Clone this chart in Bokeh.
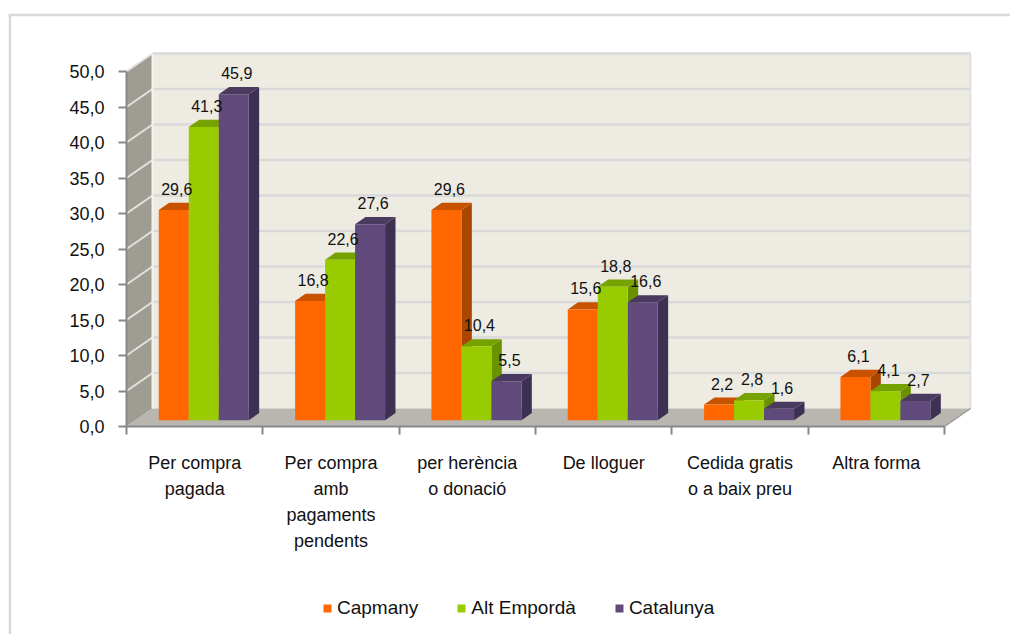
from bokeh.plotting import figure
from bokeh.models import FixedTicker, Legend, LegendItem, Range1d, ColumnDataSource
from bokeh.embed import file_html
from bokeh.resources import INLINE
from bokeh.core.properties import value

# ---------------- data ----------------
categories = ["Per compra\npagada", "Per compra\namb\npagaments\npendents",
              "per herència\no donació", "De lloguer",
              "Cedida gratis\no a baix preu", "Altra forma"]
series_names = ["Capmany", "Alt Empordà", "Catalunya"]
capmany = [29.6, 16.8, 29.6, 15.6, 2.2, 6.1]
alt_emporda = [41.3, 22.6, 10.4, 18.8, 2.8, 4.1]
catalunya = [45.9, 27.6, 5.5, 16.6, 1.6, 2.7]
y_ticks = [0, 5, 10, 15, 20, 25, 30, 35, 40, 45, 50]
y_tick_labels = ["0,0", "5,0", "10,0", "15,0", "20,0", "25,0", "30,0", "35,0", "40,0", "45,0", "50,0"]

series_values = [capmany, alt_emporda, catalunya]

# ---------------- styles ----------------
FONT = "Liberation Sans"
front_col = ["#ff6600", "#99cc00", "#604a7b"]
top_col = ["#c85200", "#76a200", "#4a3a60"]
side_col = ["#aa4600", "#6a9200", "#3e3052"]

WIDTH, HEIGHT = 1010, 634
X0_PX, Y0_PX = 126, 426      # pixel position of the axes origin
n = len(categories)
PX_X = 136.33                # pixels per category
PX_Y = 7.1                   # pixels per value unit
DX = 26 / PX_X               # full depth, x
DY = 18 / PX_Y               # full depth, y
F = 0.35                     # bar front depth fraction
B = 0.75                     # bar back depth fraction
W = 0.22                     # bar width
G0 = 0.5 - 1.5 * W
YMAX = 50


def sx(px):
    return (px - X0_PX) / PX_X


def sy(py):
    return (Y0_PX - py) / PX_Y


p = figure(width=WIDTH, height=HEIGHT,
           x_range=Range1d(sx(0), sx(WIDTH)),
           y_range=Range1d(sy(HEIGHT), sy(0)),
           output_backend="svg", toolbar_location=None,
           min_border=0, min_border_left=0, min_border_right=0,
           min_border_top=0, min_border_bottom=0)
p.grid.visible = False
p.outline_line_color = None
p.background_fill_color = "white"
p.border_fill_color = "white"

# outer chart border (left and top edges only)
p.segment(x0=[sx(9.5), sx(8)], y0=[sy(13.5), sy(14.5)], x1=[sx(9.5), sx(1020)], y1=[sy(700), sy(14.5)],
          line_color="#d9d9d9", line_width=2.5)

# walls and floor
p.patch([0, DX, DX, 0], [0, DY, YMAX + DY, YMAX], fill_color="#9f9c94", line_color=None)
p.patch([DX, n + DX, n + DX, DX], [DY, DY, YMAX + DY, YMAX + DY], fill_color="#edebe2", line_color=None)
p.patch([0, n, n + DX, DX], [0, 0, DY, DY], fill_color="#b8b6ae", line_color=None)

grid_v = y_ticks[1:]
p.segment(x0=[DX] * len(grid_v), y0=[v + DY for v in grid_v],
          x1=[n + DX] * len(grid_v), y1=[v + DY for v in grid_v],
          line_color="#d9d9d9", line_width=2.5)
p.segment(x0=[0] * len(grid_v), y0=grid_v, x1=[DX] * len(grid_v), y1=[v + DY for v in grid_v],
          line_color="#e4e2dc", line_width=2)
p.segment(x0=[DX], y0=[DY], x1=[DX], y1=[YMAX + DY], line_color="#f4f3ee", line_width=2)
p.segment(x0=[n + DX], y0=[DY], x1=[n + DX], y1=[YMAX + DY], line_color="#dcdcdc", line_width=1.5)
p.segment(x0=[n], y0=[0], x1=[n + DX], y1=[DY], line_color="#9a9a9a", line_width=1.5)

# bars
legend_items = []
for j, vals in enumerate(series_values):
    lefts = [i + G0 + j * W for i in range(n)]
    rights = [l + W for l in lefts]
    side_xs, side_ys, top_xs, top_ys = [], [], [], []
    for l, r, v in zip(lefts, rights, vals):
        side_xs.append([r + F * DX, r + B * DX, r + B * DX, r + F * DX])
        side_ys.append([F * DY, B * DY, v + B * DY, v + F * DY])
        top_xs.append([l + F * DX, r + F * DX, r + B * DX, l + B * DX])
        top_ys.append([v + F * DY, v + F * DY, v + B * DY, v + B * DY])
    p.patches(side_xs, side_ys, fill_color=side_col[j], line_color=None)
    p.patches(top_xs, top_ys, fill_color=top_col[j], line_color=None)
    src = ColumnDataSource(dict(left=[l + F * DX for l in lefts], right=[r + F * DX for r in rights],
                                bottom=[F * DY] * n, top=[v + F * DY for v in vals]))
    rq = p.quad(left="left", right="right", bottom="bottom", top="top", source=src,
                fill_color=front_col[j], line_color=None)
    legend_items.append(LegendItem(label=series_names[j], renderers=[rq]))

# data labels
for j, vals in enumerate(series_values):
    lx = [i + G0 + j * W + W / 2 + F * DX + 3 / PX_X for i in range(n)]
    ly = [v + F * DY + 21 / PX_Y for v in vals]
    txt = [f"{v:.1f}".replace(".", ",") for v in vals]
    p.text(x=lx, y=ly, text=txt, text_align="center", text_baseline="middle",
           text_font=value(FONT), text_font_size="16px", text_color="#111111")

# axes (drawn at the origin of the 3D front plane)
p.yaxis.fixed_location = 0
p.yaxis.ticker = FixedTicker(ticks=y_ticks)
p.yaxis.major_label_overrides = {t: lab for t, lab in zip(y_ticks, y_tick_labels)}
p.yaxis.bounds = (0, YMAX)
p.yaxis.axis_line_color = "#888888"
p.yaxis.axis_line_width = 2
p.yaxis.major_tick_line_color = "#888888"
p.yaxis.major_tick_line_width = 2
p.yaxis.major_tick_out = 8
p.yaxis.major_tick_in = 0
p.yaxis.minor_tick_line_color = None
p.yaxis.major_label_standoff = 14
p.yaxis.major_label_text_font = FONT
p.yaxis.major_label_text_font_size = "18px"
p.yaxis.major_label_text_color = "#111111"

centers = [i + 0.5 for i in range(n)]
p.xaxis.fixed_location = 0
p.xaxis.ticker = FixedTicker(ticks=centers, minor_ticks=list(range(n + 1)))
p.xaxis.major_label_overrides = {c: lab for c, lab in zip(centers, categories)}
p.xaxis.bounds = (0, n)
p.xaxis.axis_line_color = "#888888"
p.xaxis.axis_line_width = 2
p.xaxis.major_tick_line_color = None
p.xaxis.major_tick_out = 0
p.xaxis.major_tick_in = 0
p.xaxis.minor_tick_line_color = "#888888"
p.xaxis.minor_tick_line_width = 2
p.xaxis.minor_tick_out = 8
p.xaxis.minor_tick_in = 0
p.xaxis.major_label_standoff = 18
p.xaxis.major_label_text_font = FONT
p.xaxis.major_label_text_font_size = "18px"
p.xaxis.major_label_text_color = "#111111"
p.xaxis.major_label_text_line_height = 1.3

legend = Legend(items=legend_items, orientation="horizontal", location=(322, 15),
                glyph_width=10, glyph_height=10, label_standoff=5, spacing=38,
                padding=0, margin=0, border_line_color=None, background_fill_alpha=0,
                label_text_font=FONT, label_text_font_size="19px", label_text_color="#111111")
p.add_layout(legend, "center")

open("out.html", "w").write(file_html(p, INLINE))
